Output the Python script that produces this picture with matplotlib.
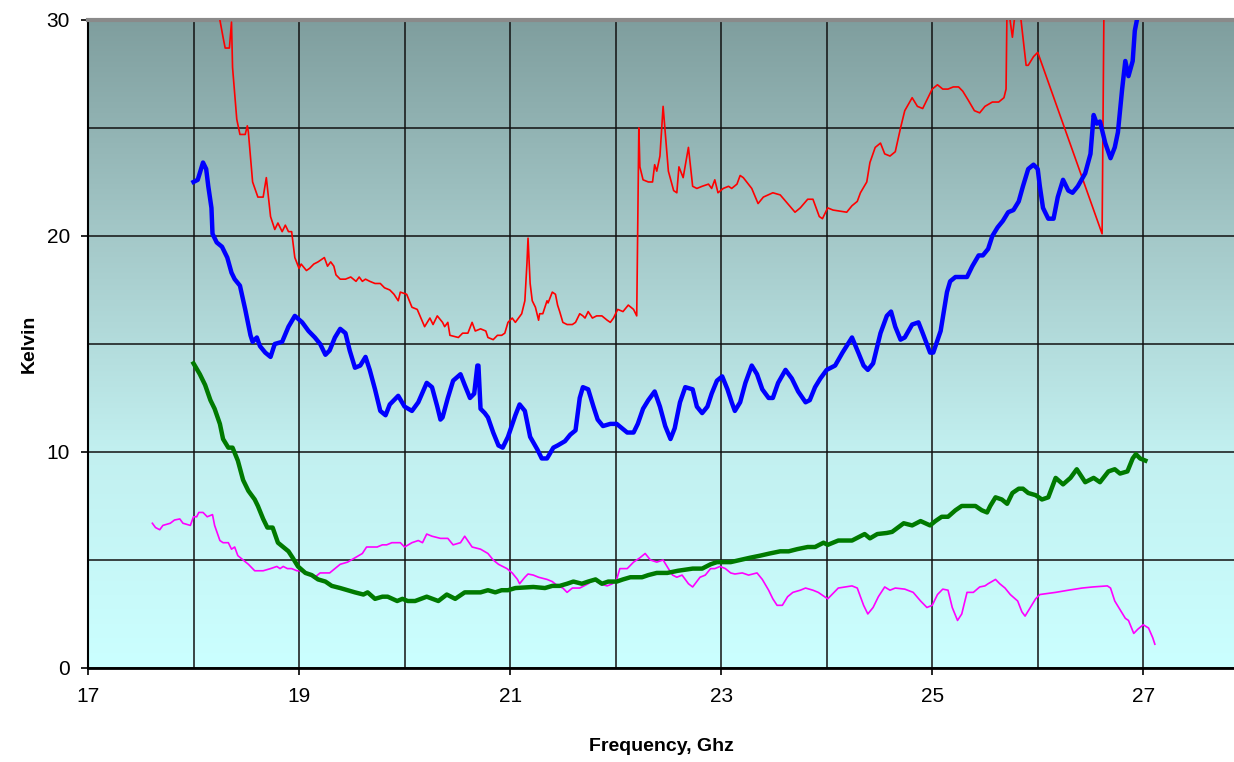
import matplotlib
matplotlib.use("Agg")
import matplotlib.pyplot as plt
import numpy as np
from matplotlib.colors import LinearSegmentedColormap

plt.rcParams['font.family'] = ['Liberation Sans', 'DejaVu Sans']

# --- data (frequency GHz, Kelvin) ---
red_x = [18.20, 18.25, 18.28, 18.30, 18.34, 18.36, 18.37, 18.41, 18.44, 18.49, 18.51, 18.52,
         18.56, 18.61, 18.66, 18.69, 18.71, 18.73, 18.77, 18.80, 18.84, 18.87, 18.90, 18.93,
         18.96, 19.00, 19.02, 19.07, 19.10, 19.14, 19.18, 19.21, 19.24, 19.27, 19.30, 19.33,
         19.35, 19.39, 19.44, 19.49, 19.54, 19.57, 19.60, 19.63, 19.67, 19.72, 19.77, 19.81,
         19.86, 19.90, 19.94, 19.96, 20.02, 20.07, 20.12, 20.19, 20.24, 20.27, 20.31, 20.36,
         20.38, 20.41, 20.43, 20.51, 20.55, 20.60, 20.64, 20.67, 20.72, 20.77, 20.79, 20.84,
         20.88, 20.92, 20.95, 20.98, 21.02, 21.05, 21.08, 21.11, 21.14, 21.16, 21.17, 21.19,
         21.21, 21.24, 21.27, 21.28, 21.31, 21.35, 21.36, 21.40, 21.43, 21.45, 21.47, 21.50,
         21.54, 21.59, 21.62, 21.66, 21.69, 21.71, 21.74, 21.78, 21.82, 21.87, 21.92, 21.95,
         21.98, 22.02, 22.07, 22.12, 22.17, 22.20, 22.22, 22.23, 22.26, 22.31, 22.35, 22.37,
         22.39, 22.42, 22.45, 22.47, 22.50, 22.55, 22.58, 22.60, 22.64, 22.69, 22.73, 22.77,
         22.82, 22.88, 22.91, 22.94, 22.97, 23.02, 23.07, 23.10, 23.15, 23.18, 23.21, 23.29,
         23.35, 23.40, 23.49, 23.56, 23.63, 23.70, 23.75, 23.82, 23.87, 23.93, 23.96, 24.01,
         24.06, 24.19, 24.24, 24.29, 24.32, 24.38, 24.41, 24.46, 24.51, 24.55, 24.60, 24.65,
         24.70, 24.74, 24.81, 24.86, 24.91, 24.95, 25.00, 25.05, 25.10, 25.15, 25.20, 25.25,
         25.29, 25.34, 25.40, 25.45, 25.50, 25.57, 25.63, 25.68, 25.70, 25.71, 25.76, 25.79,
         25.83, 25.89, 25.91, 25.96, 26.00, 26.61, 26.63]
red_y = [32.0, 30.0, 29.2, 28.7, 28.7, 29.9, 27.8, 25.4, 24.7, 24.7, 25.1, 24.8,
         22.5, 21.8, 21.8, 22.7, 21.8, 20.9, 20.3, 20.6, 20.2, 20.5, 20.2, 20.2,
         19.0, 18.5, 18.7, 18.4, 18.5, 18.7, 18.8, 18.9, 19.0, 18.6, 18.8, 18.6,
         18.2, 18.0, 18.0, 18.1, 17.9, 18.1, 17.9, 18.0, 17.9, 17.8, 17.8, 17.6,
         17.5, 17.3, 17.0, 17.4, 17.3, 16.7, 16.6, 15.8, 16.2, 15.9, 16.3, 16.0,
         15.8, 16.0, 15.4, 15.3, 15.5, 15.5, 16.0, 15.6, 15.7, 15.6, 15.3, 15.2,
         15.4, 15.4, 15.5, 16.0, 16.2, 16.0, 16.2, 16.4, 17.0, 18.75, 19.9, 17.8,
         17.0, 16.7, 16.1, 16.4, 16.4, 17.0, 16.9, 17.4, 17.3, 16.8, 16.5, 16.0,
         15.9, 15.9, 16.0, 16.4, 16.3, 16.2, 16.5, 16.2, 16.3, 16.3, 16.1, 16.0,
         16.2, 16.6, 16.5, 16.8, 16.6, 16.3, 25.0, 23.2, 22.6, 22.5, 22.5, 23.3,
         23.0, 23.7, 26.0, 24.8, 23.0, 22.1, 22.0, 23.2, 22.7, 24.1, 22.3, 22.2,
         22.3, 22.4, 22.2, 22.6, 22.0, 22.2, 22.3, 22.2, 22.4, 22.8, 22.7, 22.2,
         21.5, 21.8, 22.0, 21.9, 21.5, 21.1, 21.3, 21.7, 21.7, 20.9, 20.8, 21.3,
         21.2, 21.1, 21.4, 21.6, 22.0, 22.5, 23.4, 24.1, 24.3, 23.8, 23.7, 23.9,
         25.0, 25.8, 26.4, 26.0, 25.9, 26.3, 26.8, 27.0, 26.8, 26.8, 26.9, 26.9,
         26.7, 26.3, 25.8, 25.7, 26.0, 26.2, 26.2, 26.4, 26.8, 31.0, 29.2, 30.5,
         30.5, 27.9, 27.9, 28.3, 28.5, 20.1, 32.0]

blue_x = [18.00, 18.04, 18.09, 18.12, 18.14, 18.17, 18.18, 18.22, 18.27, 18.32, 18.36, 18.39,
          18.44, 18.49, 18.54, 18.56, 18.60, 18.63, 18.68, 18.73, 18.77, 18.84, 18.90, 18.96,
          19.03, 19.09, 19.15, 19.20, 19.25, 19.29, 19.34, 19.39, 19.44, 19.48, 19.53, 19.58,
          19.63, 19.67, 19.72, 19.77, 19.82, 19.86, 19.94, 20.00, 20.07, 20.13, 20.21, 20.26,
          20.31, 20.34, 20.36, 20.41, 20.46, 20.53, 20.57, 20.62, 20.66, 20.69, 20.70, 20.72,
          20.76, 20.79, 20.84, 20.89, 20.93, 20.98, 21.05, 21.09, 21.14, 21.19, 21.26, 21.30,
          21.35, 21.41, 21.45, 21.52, 21.57, 21.62, 21.66, 21.69, 21.74, 21.79, 21.83, 21.88,
          21.95, 22.01, 22.06, 22.11, 22.17, 22.21, 22.26, 22.31, 22.37, 22.42, 22.47, 22.52,
          22.56, 22.61, 22.66, 22.73, 22.77, 22.82, 22.87, 22.91, 22.96, 23.01, 23.06, 23.10,
          23.13, 23.18, 23.23, 23.29, 23.34, 23.39, 23.45, 23.49, 23.54, 23.61, 23.67, 23.73,
          23.80, 23.84, 23.89, 23.94, 24.00, 24.08, 24.15, 24.24, 24.30, 24.35, 24.39, 24.44,
          24.51, 24.57, 24.61, 24.65, 24.70, 24.74, 24.81, 24.87, 24.91, 24.98, 25.01, 25.08,
          25.14, 25.17, 25.22, 25.33, 25.38, 25.44, 25.48, 25.53, 25.57, 25.62, 25.67, 25.72,
          25.77, 25.82, 25.86, 25.91, 25.96, 26.00, 26.02, 26.05, 26.10, 26.15, 26.19, 26.24,
          26.29, 26.33, 26.38, 26.45, 26.50, 26.53, 26.56, 26.59, 26.64, 26.69, 26.73, 26.76,
          26.80, 26.83, 26.86, 26.90, 26.92, 26.94, 26.97]
blue_y = [22.5, 22.6, 23.4, 23.1, 22.3, 21.3, 20.1, 19.7, 19.5, 19.0, 18.3, 18.0,
          17.7, 16.6, 15.4, 15.1, 15.3, 14.9, 14.6, 14.4, 15.0, 15.1, 15.8, 16.3,
          16.0, 15.6, 15.3, 15.0, 14.5, 14.7, 15.3, 15.7, 15.5, 14.7, 13.9, 14.0,
          14.4, 13.8, 12.9, 11.9, 11.7, 12.2, 12.6, 12.1, 11.9, 12.3, 13.2, 13.0,
          12.1, 11.5, 11.6, 12.5, 13.3, 13.6, 13.1, 12.5, 12.7, 14.0, 14.0, 12.0,
          11.8, 11.6, 10.9, 10.3, 10.2, 10.7, 11.7, 12.2, 11.9, 10.7, 10.1, 9.7,
          9.7, 10.2, 10.3, 10.5, 10.8, 11.0, 12.5, 13.0, 12.9, 12.1, 11.5, 11.2,
          11.3, 11.3, 11.1, 10.9, 10.9, 11.3, 12.0, 12.4, 12.8, 12.1, 11.2, 10.6,
          11.1, 12.3, 13.0, 12.9, 12.1, 11.8, 12.1, 12.7, 13.3, 13.5, 12.9, 12.3,
          11.9, 12.3, 13.2, 14.0, 13.6, 12.9, 12.5, 12.5, 13.2, 13.8, 13.4, 12.8,
          12.3, 12.4, 13.0, 13.4, 13.8, 14.0, 14.6, 15.3, 14.6, 14.0, 13.8, 14.1,
          15.5, 16.3, 16.5, 15.8, 15.2, 15.3, 15.9, 16.0, 15.5, 14.6, 14.6, 15.6,
          17.4, 17.9, 18.1, 18.1, 18.6, 19.1, 19.1, 19.4, 20.0, 20.4, 20.7, 21.1,
          21.2, 21.6, 22.3, 23.1, 23.3, 23.1, 22.3, 21.3, 20.8, 20.8, 21.8, 22.6,
          22.1, 22.0, 22.3, 22.9, 23.8, 25.6, 25.2, 25.3, 24.3, 23.6, 24.1, 24.8,
          26.8, 28.1, 27.4, 28.1, 29.5, 30.0, 31.5]

green_x = [18.00, 18.06, 18.11, 18.16, 18.20, 18.25, 18.28, 18.33, 18.37, 18.42, 18.47, 18.52,
           18.58, 18.61, 18.66, 18.70, 18.75, 18.80, 18.85, 18.90, 18.94, 18.99, 19.06, 19.12,
           19.18, 19.25, 19.31, 19.39, 19.46, 19.53, 19.61, 19.65, 19.72, 19.79, 19.84, 19.93,
           19.98, 20.03, 20.10, 20.21, 20.32, 20.40, 20.48, 20.57, 20.64, 20.72, 20.79, 20.86,
           20.92, 20.98, 21.05, 21.22, 21.33, 21.40, 21.47, 21.54, 21.60, 21.68, 21.74, 21.81,
           21.87, 21.93, 22.01, 22.07, 22.14, 22.18, 22.25, 22.31, 22.39, 22.49, 22.59, 22.73,
           22.82, 22.90, 22.96, 23.02, 23.09, 23.18, 23.27, 23.37, 23.46, 23.56, 23.64, 23.72,
           23.82, 23.89, 23.97, 24.01, 24.11, 24.24, 24.36, 24.41, 24.48, 24.57, 24.62, 24.73,
           24.81, 24.89, 24.98, 25.03, 25.09, 25.15, 25.22, 25.28, 25.41, 25.47, 25.52, 25.55,
           25.60, 25.66, 25.71, 25.76, 25.82, 25.86, 25.91, 25.98, 26.04, 26.10, 26.17, 26.24,
           26.31, 26.37, 26.45, 26.53, 26.59, 26.67, 26.73, 26.78, 26.85, 26.90, 26.93, 26.97,
           27.02]
green_y = [14.1, 13.6, 13.1, 12.4, 12.0, 11.3, 10.6, 10.2, 10.2, 9.6, 8.7, 8.2,
           7.8, 7.5, 6.9, 6.5, 6.5, 5.8, 5.6, 5.4, 5.1, 4.7, 4.4, 4.3,
           4.1, 4.0, 3.8, 3.7, 3.6, 3.5, 3.4, 3.5, 3.2, 3.3, 3.3, 3.1,
           3.2, 3.1, 3.1, 3.3, 3.1, 3.4, 3.2, 3.5, 3.5, 3.5, 3.6, 3.5,
           3.6, 3.6, 3.7, 3.75, 3.7, 3.8, 3.8, 3.9, 4.0, 3.9, 4.0, 4.1,
           3.9, 4.0, 4.0, 4.1, 4.2, 4.2, 4.2, 4.3, 4.4, 4.4, 4.5, 4.6,
           4.6, 4.8, 4.9, 4.9, 4.9, 5.0, 5.1, 5.2, 5.3, 5.4, 5.4, 5.5,
           5.6, 5.6, 5.8, 5.7, 5.9, 5.9, 6.2, 6.0, 6.2, 6.25, 6.3, 6.7,
           6.6, 6.8, 6.6, 6.8, 7.0, 7.0, 7.3, 7.5, 7.5, 7.3, 7.2, 7.5,
           7.9, 7.8, 7.6, 8.1, 8.3, 8.3, 8.1, 8.0, 7.8, 7.9, 8.8, 8.5,
           8.8, 9.2, 8.6, 8.8, 8.6, 9.1, 9.2, 9.0, 9.1, 9.7, 9.9, 9.7,
           9.6]

magenta_x = [17.61, 17.64, 17.68, 17.71, 17.78, 17.82, 17.87, 17.90, 17.97, 18.00, 18.03, 18.05,
             18.09, 18.13, 18.18, 18.20, 18.25, 18.28, 18.33, 18.36, 18.39, 18.42, 18.47, 18.52,
             18.58, 18.66, 18.73, 18.79, 18.82, 18.85, 18.89, 18.93, 18.98, 19.01, 19.06, 19.10,
             19.15, 19.20, 19.25, 19.29, 19.34, 19.39, 19.46, 19.53, 19.60, 19.64, 19.69, 19.74,
             19.79, 19.83, 19.88, 19.91, 19.96, 20.00, 20.07, 20.13, 20.17, 20.21, 20.26, 20.34,
             20.41, 20.46, 20.53, 20.57, 20.64, 20.72, 20.79, 20.84, 20.89, 20.97, 21.02, 21.07,
             21.09, 21.14, 21.17, 21.22, 21.27, 21.35, 21.40, 21.45, 21.50, 21.54, 21.59, 21.66,
             21.74, 21.79, 21.85, 21.92, 21.97, 22.01, 22.04, 22.11, 22.17, 22.23, 22.28, 22.33,
             22.39, 22.45, 22.50, 22.54, 22.58, 22.63, 22.66, 22.69, 22.73, 22.80, 22.85, 22.90,
             22.94, 22.99, 23.04, 23.09, 23.13, 23.20, 23.26, 23.34, 23.39, 23.45, 23.49, 23.53,
             23.58, 23.63, 23.68, 23.75, 23.80, 23.87, 23.92, 24.01, 24.11, 24.24, 24.29, 24.35,
             24.39, 24.44, 24.49, 24.55, 24.60, 24.65, 24.74, 24.82, 24.89, 24.95, 25.00, 25.05,
             25.10, 25.15, 25.19, 25.24, 25.28, 25.33, 25.39, 25.45, 25.50, 25.53, 25.60, 25.64,
             25.69, 25.74, 25.81, 25.85, 25.88, 25.93, 25.98, 26.02, 26.17, 26.29, 26.42, 26.52,
             26.66, 26.69, 26.73, 26.78, 26.83, 26.86, 26.91, 26.95, 27.00, 27.05, 27.09, 27.11]
magenta_y = [6.7, 6.5, 6.4, 6.6, 6.7, 6.85, 6.9, 6.7, 6.6, 7.0, 7.0, 7.2,
             7.2, 7.0, 7.1, 6.6, 5.9, 5.8, 5.8, 5.5, 5.6, 5.2, 5.0, 4.8,
             4.5, 4.5, 4.6, 4.7, 4.6, 4.7, 4.6, 4.6, 4.5, 4.5, 4.4, 4.3,
             4.2, 4.4, 4.4, 4.4, 4.6, 4.8, 4.9, 5.1, 5.3, 5.6, 5.6, 5.6,
             5.7, 5.7, 5.8, 5.8, 5.8, 5.6, 5.8, 5.9, 5.8, 6.2, 6.1, 6.0,
             6.0, 5.7, 5.8, 6.1, 5.6, 5.5, 5.3, 5.0, 4.8, 4.6, 4.4, 4.1,
             3.9, 4.2, 4.35, 4.3, 4.2, 4.1, 4.0, 3.8, 3.7, 3.5, 3.7, 3.7,
             3.9, 4.1, 3.9, 3.8, 3.9, 4.1, 4.6, 4.6, 4.9, 5.1, 5.3, 5.0,
             4.9, 5.0, 4.6, 4.3, 4.2, 4.3, 4.1, 3.9, 3.75, 4.2, 4.3, 4.6,
             4.6, 4.7, 4.6, 4.4, 4.35, 4.4, 4.3, 4.4, 4.1, 3.6, 3.2, 2.9,
             2.9, 3.3, 3.5, 3.6, 3.7, 3.6, 3.5, 3.2, 3.7, 3.8, 3.7, 2.9,
             2.5, 2.8, 3.3, 3.75, 3.6, 3.7, 3.65, 3.5, 3.1, 2.8, 2.9, 3.4,
             3.65, 3.6, 2.8, 2.2, 2.5, 3.5, 3.5, 3.75, 3.8, 3.9, 4.1, 3.9,
             3.7, 3.4, 3.1, 2.6, 2.4, 2.8, 3.2, 3.4, 3.5, 3.6, 3.7, 3.75,
             3.8, 3.7, 3.1, 2.7, 2.3, 2.2, 1.6, 1.8, 2.0, 1.85, 1.4, 1.1]

x_labels = [17, 19, 21, 23, 25, 27]
y_labels = [0, 10, 20, 30]


def plot_chart():
    fig = plt.figure(figsize=(12.34, 7.62), dpi=100)
    ax = fig.add_axes([0.0713, 0.1234, 0.9287, 0.8504])

    # fondo degradado estilo Excel
    cmap = LinearSegmentedColormap.from_list('bg', ['#cbffff', '#c2f0f0', '#a4c8c8', '#7f9e9e'])
    grad = np.linspace(0, 1, 256).reshape(-1, 1)
    ax.imshow(grad, aspect='auto', cmap=cmap, origin='lower',
              extent=[0, 1, 0, 1], transform=ax.transAxes, zorder=0)

    ax.plot(red_x, red_y, color='#ff0000', lw=1.2, zorder=3)
    ax.plot(magenta_x, magenta_y, color='#ff00ff', lw=1.2, zorder=3)
    ax.plot(blue_x, blue_y, color='#0000ff', lw=3.2, zorder=4)
    ax.plot(green_x, green_y, color='#007a00', lw=3.2, zorder=4)

    ax.set_xlim(17, 27.86)
    ax.set_ylim(0, 30)

    ax.set_xticks(x_labels)
    ax.set_xticks([18, 20, 22, 24, 26], minor=True)
    ax.set_yticks(y_labels)
    ax.set_yticks([5, 15, 25], minor=True)
    ax.tick_params(which='major', direction='out', length=5, width=1.2, labelsize=15, pad=8)
    ax.tick_params(which='minor', length=0)
    ax.tick_params(axis='x', pad=9)
    ax.grid(which='both', color='#111111', lw=1.1, zorder=1)
    ax.set_axisbelow(True)

    ax.spines['right'].set_visible(False)
    ax.spines['top'].set_color('#8a8a8a')
    ax.spines['top'].set_linewidth(3)
    ax.spines['left'].set_linewidth(1.5)
    ax.spines['bottom'].set_linewidth(2)

    ax.set_xlabel('Frequency, Ghz', fontsize=14, fontweight='bold', labelpad=23)
    ax.set_ylabel('Kelvin', fontsize=14, fontweight='bold', labelpad=6)

    fig.savefig('out.png', dpi=100)
    plt.close(fig)


if __name__ == "__main__":
    plot_chart()
